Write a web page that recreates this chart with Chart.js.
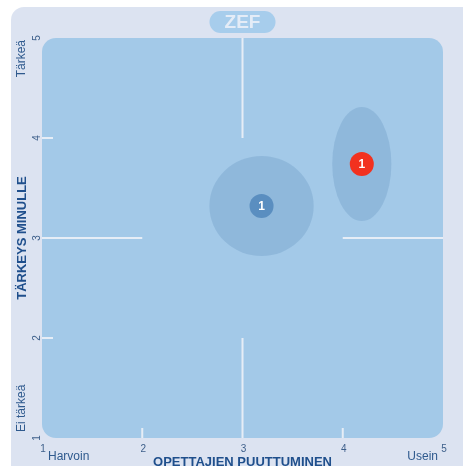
<!DOCTYPE html>
<html>
<head>
<meta charset="utf-8">
<script src="https://cdn.jsdelivr.net/npm/chart.js@4.4.0/dist/chart.umd.min.js"></script>
<style>
  html, body { margin: 0; padding: 0; background: #ffffff; }
  #wrap { width: 463px; height: 466px; position: relative; }
</style>
</head>
<body>
<div id="wrap"><canvas id="zefChart"></canvas></div>
<script>
// Chart values
const groupLabels = ['1', '1'];
const groupX = [3.19, 4.19];          // opettajien puuttuminen
const groupY = [3.32, 3.74];          // tärkeys minulle
const spreadX = [0.52, 0.295];        // half width of the shaded area
const spreadY = [0.50, 0.57];         // half height of the shaded area
const markerColors = ['#5a8ec0', '#f2311f'];
const xTicks = [1, 2, 3, 4, 5];
const yTicks = [1, 2, 3, 4, 5];
const chartTitle = 'ZEF';
const xTitle = 'OPETTAJIEN PUUTTUMINEN';
const yTitle = 'TÄRKEYS MINULLE';
const xLowLabel = 'Harvoin';
const xHighLabel = 'Usein';
const yLowLabel = 'Ei tärkeä';
const yHighLabel = 'Tärkeä';

const FONT = '"Liberation Sans", Arial, sans-serif';

function roundRect(ctx, x, y, w, h, r) {
    ctx.beginPath();
    ctx.moveTo(x + r, y);
    ctx.lineTo(x + w - r, y);
    ctx.arcTo(x + w, y, x + w, y + r, r);
    ctx.lineTo(x + w, y + h - r);
    ctx.arcTo(x + w, y + h, x + w - r, y + h, r);
    ctx.lineTo(x + r, y + h);
    ctx.arcTo(x, y + h, x, y + h - r, r);
    ctx.lineTo(x, y + r);
    ctx.arcTo(x, y, x + r, y, r);
    ctx.closePath();
}

// Draws the panel, plot area, partial grid and the spread ellipses
const zefBackground = {
    id: 'zefBackground',
    beforeDatasetsDraw(chart) {
        const ctx = chart.ctx;
        const area = chart.chartArea;
        const xs = chart.scales.x;
        const ys = chart.scales.y;
        ctx.save();

        // outer panel
        ctx.fillStyle = '#dce3f1';
        roundRect(ctx, 11, 7, 480, 490, 13);
        ctx.fill();

        // plot area
        ctx.fillStyle = '#a3c9e8';
        roundRect(ctx, area.left, area.top, area.right - area.left, area.bottom - area.top, 14);
        ctx.fill();

        // title pill
        const cx = (area.left + area.right) / 2;
        ctx.fillStyle = '#a7cdec';
        roundRect(ctx, cx - 33, 11, 66, 22, 11);
        ctx.fill();
        ctx.fillStyle = '#e4ecf7';
        ctx.font = 'bold 19px ' + FONT;
        ctx.textAlign = 'center';
        ctx.textBaseline = 'middle';
        ctx.fillText(chartTitle, cx, 23);

        // partial grid lines
        ctx.strokeStyle = '#e6edf6';
        ctx.lineWidth = 2;
        const line = (x1, y1, x2, y2) => {
            ctx.beginPath();
            ctx.moveTo(x1, y1);
            ctx.lineTo(x2, y2);
            ctx.stroke();
        };
        const mx = xs.getPixelForValue(3);
        const my = ys.getPixelForValue(3);
        line(mx, area.top, mx, ys.getPixelForValue(4));
        line(mx, ys.getPixelForValue(2), mx, area.bottom);
        line(area.left, my, xs.getPixelForValue(2), my);
        line(xs.getPixelForValue(4), my, area.right, my);
        [2, 4].forEach(v => {
            const px = xs.getPixelForValue(v);
            line(px, area.bottom - 10, px, area.bottom);
            const py = ys.getPixelForValue(v);
            line(area.left, py, area.left + 11, py);
        });

        // spread ellipses
        ctx.fillStyle = 'rgba(120, 165, 205, 0.45)';
        groupX.forEach((gx, i) => {
            const px = xs.getPixelForValue(gx);
            const py = ys.getPixelForValue(groupY[i]);
            const rx = Math.abs(xs.getPixelForValue(gx + spreadX[i]) - px);
            const ry = Math.abs(ys.getPixelForValue(groupY[i] + spreadY[i]) - py);
            ctx.beginPath();
            ctx.ellipse(px, py, rx, ry, 0, 0, Math.PI * 2);
            ctx.fill();
        });
        ctx.restore();
    }
};

// Draws the marker numbers and all axis texts
const zefLabels = {
    id: 'zefLabels',
    afterDatasetsDraw(chart) {
        const ctx = chart.ctx;
        const area = chart.chartArea;
        const xs = chart.scales.x;
        const ys = chart.scales.y;
        ctx.save();

        // numbers inside markers
        ctx.fillStyle = '#ffffff';
        ctx.font = 'bold 12px ' + FONT;
        ctx.textAlign = 'center';
        ctx.textBaseline = 'middle';
        chart.getDatasetMeta(0).data.forEach((pt, i) => {
            ctx.fillText(groupLabels[i], pt.x, pt.y + 1);
        });

        // x tick labels
        ctx.fillStyle = '#3d5f8a';
        ctx.font = '10px ' + FONT;
        xTicks.forEach(v => {
            ctx.fillText(String(v), xs.getPixelForValue(v) + 1, area.bottom + 11);
        });

        // y tick labels (rotated)
        yTicks.forEach(v => {
            ctx.save();
            ctx.translate(area.left - 5, ys.getPixelForValue(v));
            ctx.rotate(-Math.PI / 2);
            ctx.fillText(String(v), 0, 0);
            ctx.restore();
        });

        // x end labels
        ctx.fillStyle = '#2f5a8e';
        ctx.font = '12px ' + FONT;
        ctx.textAlign = 'left';
        ctx.fillText(xLowLabel, area.left + 6, area.bottom + 19);
        ctx.textAlign = 'right';
        ctx.fillText(xHighLabel, area.right - 5, area.bottom + 19);

        // x title
        ctx.fillStyle = '#1f4f8c';
        ctx.font = 'bold 13px ' + FONT;
        ctx.textAlign = 'center';
        ctx.fillText(xTitle, (area.left + area.right) / 2, area.bottom + 24);

        // y texts
        ctx.save();
        ctx.translate(22, 0);
        ctx.rotate(-Math.PI / 2);
        ctx.fillStyle = '#2f5a8e';
        ctx.font = '12px ' + FONT;
        ctx.textAlign = 'right';
        ctx.fillText(yHighLabel, -area.top - 2, 0);
        ctx.textAlign = 'left';
        ctx.fillText(yLowLabel, -area.bottom + 6, 0);
        ctx.fillStyle = '#1f4f8c';
        ctx.font = 'bold 13px ' + FONT;
        ctx.textAlign = 'center';
        ctx.fillText(yTitle, -(area.top + area.bottom) / 2, 0);
        ctx.restore();

        ctx.restore();
    }
};

const ctx = document.getElementById('zefChart').getContext('2d');
const zefChart = new Chart(ctx, {
    type: 'scatter',
    data: {
        datasets: [{
            data: groupX.map((x, i) => ({ x: x, y: groupY[i] })),
            pointRadius: 12,
            pointHoverRadius: 12,
            pointBackgroundColor: markerColors,
            pointBorderWidth: 0
        }]
    },
    options: {
        responsive: true,
        maintainAspectRatio: false,
        animation: false,
        events: [],
        layout: {
            padding: { left: 42, top: 38, right: 20, bottom: 28 }
        },
        plugins: {
            legend: { display: false },
            tooltip: { enabled: false }
        },
        scales: {
            x: { type: 'linear', min: 1, max: 5, display: false },
            y: { type: 'linear', min: 1, max: 5, display: false }
        }
    },
    plugins: [zefBackground, zefLabels]
});
</script>
</body>
</html>
